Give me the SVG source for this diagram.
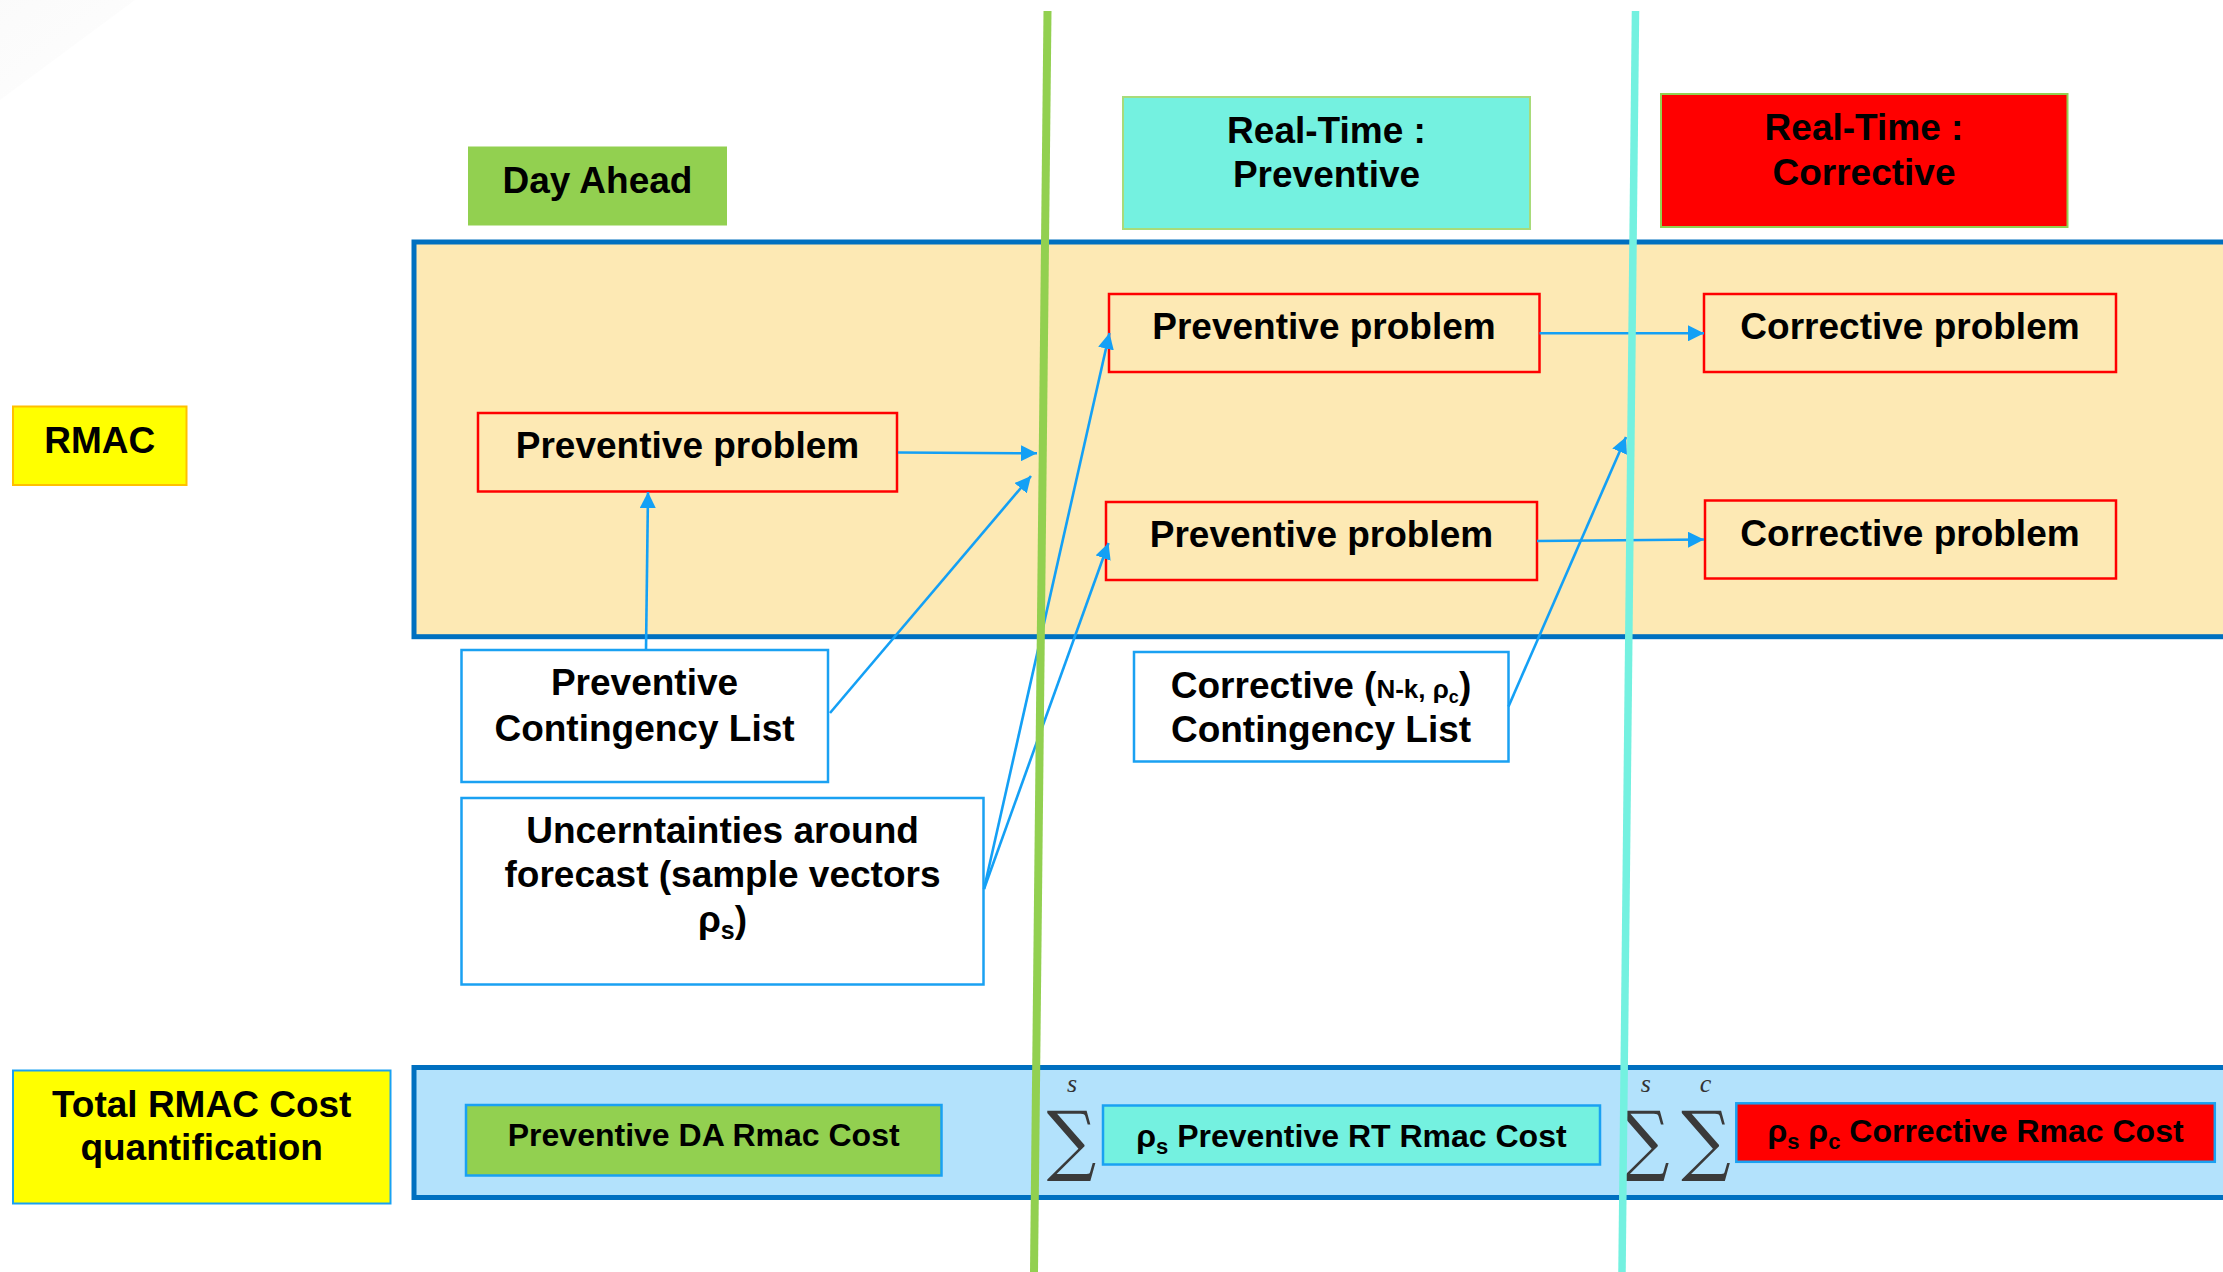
<svg xmlns="http://www.w3.org/2000/svg" width="2223" height="1272" viewBox="0 0 2223 1272">
<defs>
<style>
.t{font-family:"Liberation Sans",Arial,sans-serif;font-weight:bold;fill:#000;text-anchor:middle}
.h{font-size:37px}
.c{font-size:32px}
.prob{fill:none;stroke:#FF0000;stroke-width:2.5}
.list{fill:#FFFFFF;stroke:#1AA1F2;stroke-width:2.5}
.conn{stroke:#14A0F5;stroke-width:2.6;fill:none}
.sig{font-family:"DejaVu Serif","Liberation Serif",serif;font-size:77px;fill:#3A3A3A;text-anchor:middle}
.lim{font-family:"Liberation Serif",serif;font-style:italic;font-size:26px;fill:#333;text-anchor:middle}
</style>
<marker id="ah" markerUnits="userSpaceOnUse" markerWidth="18" markerHeight="16" refX="16" refY="8" orient="auto">
<path d="M0,0 L16,8 L0,16 z" fill="#14A0F5"/>
</marker>
<linearGradient id="corner" x1="0" y1="0" x2="1" y2="1">
<stop offset="0" stop-color="#F2F2F2"/>
<stop offset="1" stop-color="#FCFCFC"/>
</linearGradient>
</defs>
<rect x="0" y="0" width="2223" height="1272" fill="#FFFFFF"/>
<polygon points="0,0 135,0 0,100" fill="url(#corner)" opacity="0.35"/>

<!-- containers -->
<g id="rmac-band">
<rect x="414" y="242" width="1820" height="394.7" fill="#FDE9B4" stroke="#0070C0" stroke-width="5"/>
</g>
<g id="cost-band">
<rect x="414" y="1067.5" width="1820" height="130" fill="#B3E2FC" stroke="#0070C0" stroke-width="5"/>
</g>

<!-- headers -->
<g id="day-ahead">
<rect x="468" y="146.5" width="259" height="79" fill="#92D050"/>
<text class="t h" x="597.5" y="193">Day Ahead</text>
</g>
<g id="rt-preventive">
<rect x="1123" y="97" width="407" height="132" fill="#74F1E0" stroke="#A8DB7A" stroke-width="2"/>
<text class="t h" x="1326.5" y="143">Real-Time :</text>
<text class="t h" x="1326.5" y="187">Preventive</text>
</g>
<g id="rt-corrective">
<rect x="1661" y="94" width="406.5" height="133" fill="#FF0000" stroke="#92D050" stroke-width="2"/>
<text class="t h" x="1864" y="139.5">Real-Time :</text>
<text class="t h" x="1864" y="184.5">Corrective</text>
</g>
<g id="rmac-label">
<rect x="13" y="406.5" width="173.5" height="78.5" fill="#FFFF00" stroke="#FFC000" stroke-width="2"/>
<text class="t h" x="99.7" y="453">RMAC</text>
</g>
<g id="total-cost-label">
<rect x="13" y="1070.5" width="377.5" height="133" fill="#FFFF00" stroke="#1AA1F2" stroke-width="2"/>
<text class="t h" x="201.7" y="1117">Total RMAC Cost</text>
<text class="t h" x="201.7" y="1160">quantification</text>
</g>

<!-- problem nodes -->
<g id="da-preventive-problem">
<rect class="prob" x="478" y="413" width="419" height="78.5"/>
<text class="t h" x="687.5" y="458">Preventive problem</text>
</g>
<g id="rt-preventive-problem-1">
<rect class="prob" x="1109" y="294" width="430.5" height="78"/>
<text class="t h" x="1324" y="339">Preventive problem</text>
</g>
<g id="rt-preventive-problem-2">
<rect class="prob" x="1106" y="502" width="431" height="78"/>
<text class="t h" x="1321.5" y="547">Preventive problem</text>
</g>
<g id="corrective-problem-1">
<rect class="prob" x="1704" y="294" width="412" height="78"/>
<text class="t h" x="1910" y="339">Corrective problem</text>
</g>
<g id="corrective-problem-2">
<rect class="prob" x="1705" y="500.5" width="411" height="78"/>
<text class="t h" x="1910" y="546">Corrective problem</text>
</g>

<!-- input lists -->
<g id="preventive-contingency-list">
<rect class="list" x="461.5" y="650" width="366.5" height="132"/>
<text class="t h" x="644.5" y="695">Preventive</text>
<text class="t h" x="644.5" y="740.5">Contingency List</text>
</g>
<g id="uncertainties">
<rect class="list" x="461.5" y="798" width="522" height="186.5"/>
<text class="t h" x="722.5" y="843">Uncerntainties around</text>
<text class="t h" x="722.5" y="887">forecast (sample vectors</text>
<text class="t h" x="722.5" y="932">ρ<tspan font-size="25" dy="7">s</tspan><tspan dy="-7">)</tspan></text>
</g>
<g id="corrective-contingency-list">
<rect class="list" x="1134" y="652" width="374.5" height="109.5"/>
<text class="t h" x="1321" y="697.5">Corrective (<tspan font-size="26">N-k, ρ</tspan><tspan font-size="18" dy="5">c</tspan><tspan dy="-5">)</tspan></text>
<text class="t h" x="1321" y="742">Contingency List</text>
</g>

<!-- cost terms -->
<g id="preventive-da-cost">
<rect x="466" y="1105" width="475.5" height="70.5" fill="#92D050" stroke="#1AA1F2" stroke-width="2.5"/>
<text class="t c" x="703.7" y="1146">Preventive DA Rmac Cost</text>
</g>
<g id="sum-s-1">
<text class="lim" x="1072" y="1092">s</text>
<text class="sig" transform="translate(1071.5,1166) scale(0.9,1)" x="0" y="0">∑</text>
</g>
<g id="preventive-rt-cost">
<rect x="1103" y="1105.5" width="497" height="59" fill="#74F1E0" stroke="#1AA1F2" stroke-width="2.5"/>
<text class="t c" x="1351.4" y="1147">ρ<tspan font-size="22" dy="7">s</tspan><tspan dy="-7"> Preventive RT Rmac Cost</tspan></text>
</g>
<g id="sum-s-2">
<text class="lim" x="1645.7" y="1092">s</text>
<text class="sig" transform="translate(1644.7,1166) scale(0.9,1)" x="0" y="0">∑</text>
</g>
<g id="sum-c">
<text class="lim" x="1705.5" y="1092">c</text>
<text class="sig" transform="translate(1706,1166) scale(0.9,1)" x="0" y="0">∑</text>
</g>
<g id="corrective-rt-cost">
<rect x="1736.3" y="1103.3" width="478.5" height="58.5" fill="#FF0000" stroke="#1AA1F2" stroke-width="2.5"/>
<text class="t c" x="1975.5" y="1142">ρ<tspan font-size="22" dy="7">s</tspan><tspan dy="-7"> ρ</tspan><tspan font-size="22" dy="7">c</tspan><tspan dy="-7"> Corrective Rmac Cost</tspan></text>
</g>

<!-- connectors -->
<g id="connectors" class="conn" marker-end="url(#ah)">
<line x1="898" y1="452.5" x2="1037" y2="453.3"/>
<line x1="646" y1="650" x2="648" y2="492"/>
<line x1="830" y1="713" x2="1031" y2="476"/>
<line x1="984" y1="889" x2="1109.5" y2="333"/>
<line x1="984" y1="889" x2="1108.5" y2="543"/>
<line x1="1539.5" y1="333.3" x2="1704" y2="333.3"/>
<line x1="1537" y1="541" x2="1704" y2="539.5"/>
<line x1="1508.5" y1="706.5" x2="1626" y2="437"/>
</g>

<!-- time dividers -->
<g id="dividers">
<line x1="1047.5" y1="11" x2="1034" y2="1272" stroke="#92D050" stroke-width="8"/>
<line x1="1635.5" y1="11" x2="1622" y2="1272" stroke="#74F1E0" stroke-width="7.5"/>
</g>
</svg>
